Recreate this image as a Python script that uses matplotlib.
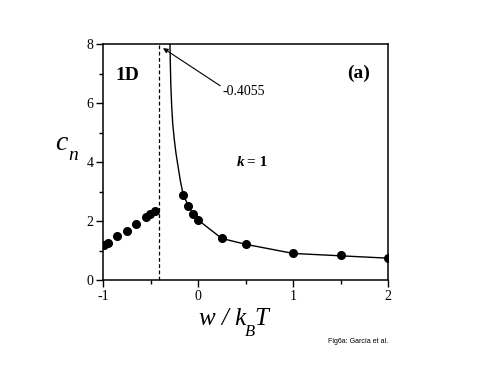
import matplotlib
matplotlib.use("Agg")
import matplotlib.pyplot as plt

# Data
left_x = [-0.986, -0.951, -0.849, -0.751, -0.653, -0.551, -0.502, -0.453]
left_y = [1.19, 1.27, 1.49, 1.66, 1.89, 2.14, 2.25, 2.35]
right_x = [-0.155, -0.102, -0.049, 0.003, 0.249, 0.502, 1.003, 1.502, 1.997]
right_y = [2.88, 2.52, 2.23, 2.03, 1.41, 1.21, 0.90, 0.84, 0.74]
curve_x = [-0.295, -0.291, -0.286, -0.277, -0.266, -0.251, -0.232, -0.210,
           -0.185, -0.155, -0.102, -0.049, 0.003, 0.249, 0.502, 1.003, 1.502, 2.0]
curve_y = [8.0, 7.30, 6.60, 5.90, 5.30, 4.80, 4.30, 3.85,
           3.35, 2.88, 2.52, 2.23, 2.03, 1.41, 1.21, 0.90, 0.82, 0.74]
critical_w = -0.4055
x_ticks = [-1, 0, 1, 2]
y_ticks = [0, 2, 4, 6, 8]

plt.rcParams['font.family'] = ['Liberation Serif', 'DejaVu Serif']

W, H = 491, 379
fig = plt.figure(figsize=(4.91, 3.79), dpi=100)
ax = fig.add_axes([103 / W, 1 - 280 / H, 285 / W, 236 / H])

ax.plot(curve_x, curve_y, color='black', lw=1.0)
ax.plot(left_x, left_y, 'o', color='black', ms=5.5)
ax.plot(right_x, right_y, 'o', color='black', ms=5.5)
ax.axvline(critical_w, color='black', lw=0.9, ls=(0, (3, 2)))

ax.set_xlim(-1, 2)
ax.set_ylim(0, 8)
ax.set_xticks(x_ticks)
ax.set_xticklabels([str(v) for v in x_ticks])
ax.set_yticks(y_ticks)
ax.set_xticks([-0.5, 0.5, 1.5], minor=True)
ax.set_yticks([1, 3, 5, 7], minor=True)
ax.tick_params(which='both', direction='out', labelsize=10, width=1.0)
ax.tick_params(which='major', length=5, pad=2)
ax.tick_params(which='minor', length=3)
for s in ax.spines.values():
    s.set_linewidth(1.1)

ax.annotate('-0.4055', xy=(-0.368, 7.86), xytext=(0.263, 6.39),
            fontsize=10, ha='left', va='center',
            arrowprops=dict(arrowstyle='-|>', color='black', lw=0.8,
                            shrinkA=0, shrinkB=0, mutation_scale=7,
                            relpos=(0.0, 0.8)))

ax.text(-0.874, 6.78, '1D', fontsize=14, fontweight='bold', ha='left', va='baseline')
ax.text(1.568, 6.85, '(a)', fontsize=14, fontweight='bold', ha='left', va='baseline')
ax.text(0.41, 3.85, 'k', fontsize=11, fontweight='bold', fontstyle='italic',
        ha='left', va='baseline')
ax.text(0.52, 3.85, '= 1', fontsize=11, fontweight='bold', ha='left', va='baseline')

def ftext(px, py, s, size, style='italic'):
    return fig.text(px / W, 1 - py / H, s, fontsize=size, fontstyle=style,
                    ha='left', va='baseline')

renderer = fig.canvas.get_renderer()

# y label c_n
ftext(55, 150, 'c', 20)
ftext(68, 160, 'n', 14)
# x label w / k_B T
t_wk = ftext(199, 325, 'w / k', 18)
bb = t_wk.get_window_extent(renderer)
xb = bb.x1 - 1
t_b = fig.text(xb / W, 1 - 336 / H, 'B', fontsize=12, fontstyle='italic',
               ha='left', va='baseline')
bb2 = t_b.get_window_extent(renderer)
fig.text((bb2.x1 - 1) / W, 1 - 325 / H, 'T', fontsize=18, fontstyle='italic',
         ha='left', va='baseline')

fig.text(388 / W, 1 - 343 / H, 'Fig6a: García et al.', fontsize=5,
         family='Liberation Sans', ha='right', va='baseline')

fig.savefig('out.png', dpi=100)
